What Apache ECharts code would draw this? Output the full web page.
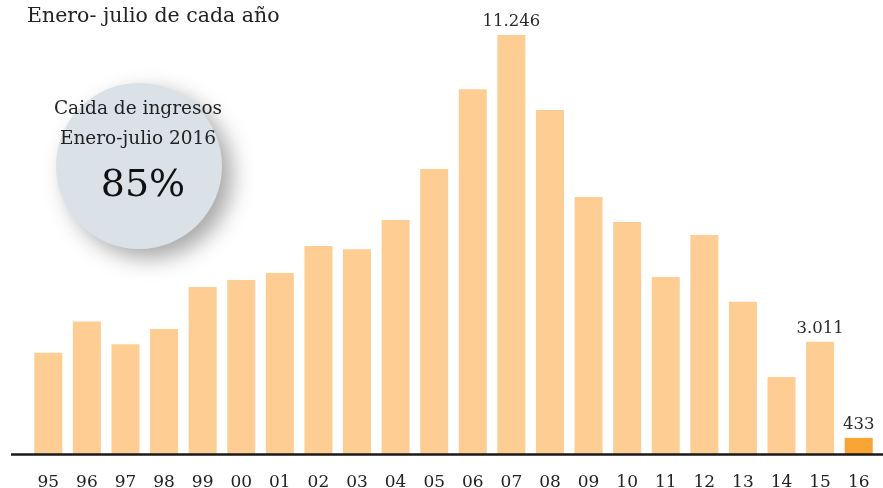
<!DOCTYPE html>
<html><head><meta charset="utf-8">
<script src="https://cdn.jsdelivr.net/npm/echarts@6/dist/echarts.min.js"></script>
<style>html,body{margin:0;padding:0;background:#fff}#c{width:883px;height:488px}</style>
</head><body><div id="c"></div>
<script>
var categories = ['95','96','97','98','99','00','01','02','03','04','05','06','07','08','09','10','11','12','13','14','15','16'];
var values = [2720,3560,2945,3355,4480,4670,4860,5585,5500,6280,7650,9790,11246,9235,6900,6230,4750,5880,4090,2070,3011,433];
var labelled = ['07','15','16'];
var labelTexts = {'07':'11.246','15':'3.011','16':'433'};
var highlight = '16';
var title = 'Enero- julio de cada año';
var circleLines = ['Caida de ingresos','Enero-julio 2016'];
var circleBig = '85%';

var FONT = '"DejaVu Serif", serif';
var chart = echarts.init(document.getElementById('c'));
var data = values.map(function(v,i){
  var c = categories[i];
  var item = {value:v, itemStyle:{color: c===highlight ? '#f8a534' : '#fdcd93'}};
  if (labelled.indexOf(c) >= 0) {
    item.label = {show:true, position:'top', distance:5, formatter: labelTexts[c],
      fontFamily: FONT, fontSize:16.5, color:'#2a2a2a'};
  }
  return item;
});
chart.setOption({
  animation:false,
  grid:{left:29, right:5, top:7, bottom:34, outerBoundsMode:'none', containLabel:false},
  xAxis:{type:'category', data:categories, axisLine:{show:false}, axisTick:{show:false},
    axisLabel:{fontFamily:FONT, fontSize:17, color:'#222', margin:20}},
  yAxis:{type:'value', min:0, max:12000, show:false, splitLine:{show:false}},
  series:[{type:'bar', data:data, barWidth:28}],
  graphic:[
    {type:'line', shape:{x1:11,y1:454.5,x2:883,y2:454.5}, style:{stroke:'#1a1a1a', lineWidth:2.5}, z:10},
    {type:'text', left:27, top:6, style:{text:title, fontFamily:FONT, fontSize:20.5, fill:'#222'}},
    {type:'circle', shape:{cx:139, cy:166, r:83}, style:{fill:'#dae1e7', shadowBlur:22, shadowColor:'rgba(0,0,0,0.35)', shadowOffsetX:10, shadowOffsetY:9}, z:1},
    {type:'text', x:138, y:109, style:{text:circleLines[0], fontFamily:FONT, fontSize:18.5, fill:'#222', align:'center', verticalAlign:'middle'}, z:2},
    {type:'text', x:138, y:139, style:{text:circleLines[1], fontFamily:FONT, fontSize:18.5, fill:'#222', align:'center', verticalAlign:'middle'}, z:2},
    {type:'text', x:143, y:186, style:{text:circleBig, fontFamily:FONT, fontSize:38, fill:'#111', align:'center', verticalAlign:'middle'}, z:2}
  ]
});
</script></body></html>
